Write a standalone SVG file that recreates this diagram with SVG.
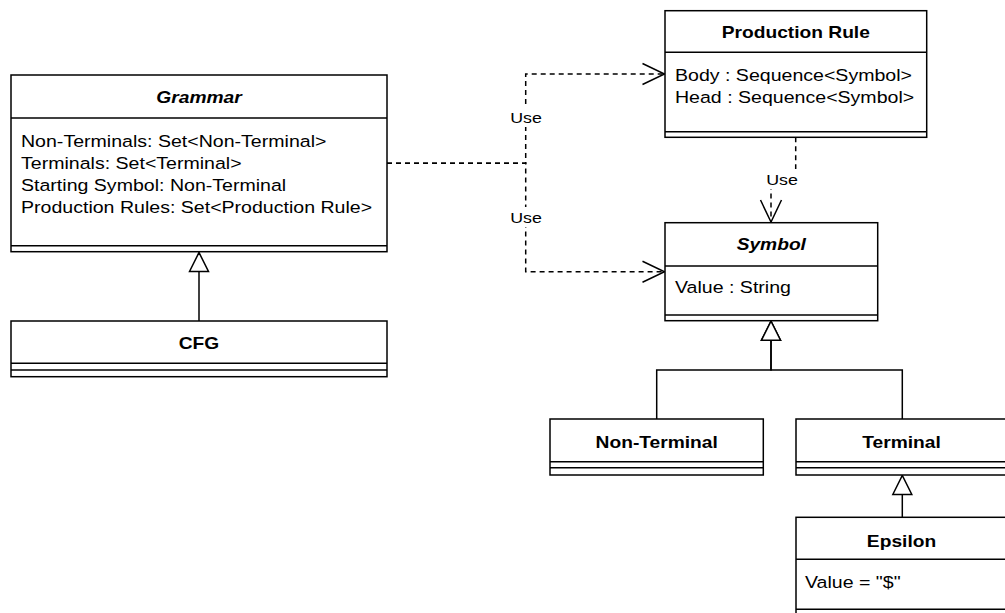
<svg xmlns="http://www.w3.org/2000/svg" width="1005" height="613" viewBox="0 0 1005 613">
  <style>
    .box { fill: #ffffff; stroke: #000000; stroke-width: 1.5; }
    .sep { stroke: #000000; stroke-width: 1.5; fill: none; }
    .title { font-family: "Liberation Sans", Arial, sans-serif; font-size: 16px; font-weight: bold; text-anchor: middle; fill: #000000; }
    .abstract { font-style: italic; }
    .attr { font-family: "Liberation Sans", Arial, sans-serif; font-size: 16.3px; fill: #000000; }
    .dep { fill: none; stroke: #000000; stroke-width: 1.5; stroke-dasharray: 5 4; }
    .gen { fill: none; stroke: #000000; stroke-width: 1.5; }
    .lbl { font-family: "Liberation Sans", Arial, sans-serif; font-size: 15.5px; text-anchor: middle; fill: #000000; }
    .lblbg { fill: #ffffff; stroke: none; }
  </style>
  <defs>
    <marker id="openArrow" markerUnits="userSpaceOnUse" markerWidth="26" markerHeight="24" refX="23" refY="12" orient="auto">
      <path d="M1,1.5 L23,12 L1,22.5" fill="none" stroke="#000000" stroke-width="1.5"/>
    </marker>
    <marker id="hollowTriangle" markerUnits="userSpaceOnUse" markerWidth="24" markerHeight="24" refX="21" refY="12" orient="auto">
      <path d="M2,2.5 L21,12 L2,21.5 Z" fill="#ffffff" stroke="#000000" stroke-width="1.5"/>
    </marker>
  </defs>

  <rect width="1005" height="613" fill="#ffffff"/>

  <!-- connectors -->
  <g id="connectors">
    <path class="dep" d="M387,163.3 H525.7 V74 H664.5" marker-end="url(#openArrow)"/>
    <path class="dep" d="M387,163.3 H525.7 V271.7 H664.5" marker-end="url(#openArrow)"/>
    <path class="dep" d="M795.7,137.3 V182 H771 V222" marker-end="url(#openArrow)"/>

    <path class="gen" d="M199,321 V252.5" marker-end="url(#hollowTriangle)"/>
    <path class="gen" d="M656.7,419 V370 H771 V321.2" marker-end="url(#hollowTriangle)"/>
    <path class="gen" d="M902.3,419 V370 H771 V321.2" marker-end="url(#hollowTriangle)"/>
    <path class="gen" d="M902.3,517.3 V475.5" marker-end="url(#hollowTriangle)"/>

    <rect class="lblbg" x="508" y="107" width="36" height="20"/>
    <text class="lbl" transform="translate(526,122.7) scale(1.15,1)">Use</text>
    <rect class="lblbg" x="508" y="207" width="36" height="20"/>
    <text class="lbl" transform="translate(526,222.7) scale(1.15,1)">Use</text>
    <rect class="lblbg" x="764" y="169" width="36" height="20"/>
    <text class="lbl" transform="translate(782,185) scale(1.15,1)">Use</text>
  </g>

  <!-- Grammar (abstract) -->
  <g id="grammar">
    <rect class="box" x="11" y="75" width="376" height="176.7"/>
    <line class="sep" x1="11" y1="118" x2="387" y2="118"/>
    <line class="sep" x1="11" y1="245.7" x2="387" y2="245.7"/>
    <text class="title abstract" transform="translate(199,103.3) scale(1.2,1)">Grammar</text>
    <text class="attr" transform="translate(21,146.7) scale(1.2,1)">Non-Terminals: Set&lt;Non-Terminal&gt;</text>
    <text class="attr" transform="translate(21,168.9) scale(1.2,1)">Terminals: Set&lt;Terminal&gt;</text>
    <text class="attr" transform="translate(21,191.1) scale(1.2,1)">Starting Symbol: Non-Terminal</text>
    <text class="attr" transform="translate(21,213.3) scale(1.2,1)">Production Rules: Set&lt;Production Rule&gt;</text>
  </g>

  <!-- CFG -->
  <g id="cfg">
    <rect class="box" x="11" y="321" width="376" height="55.7"/>
    <line class="sep" x1="11" y1="363.3" x2="387" y2="363.3"/>
    <line class="sep" x1="11" y1="370" x2="387" y2="370"/>
    <text class="title" transform="translate(199,349) scale(1.2,1)">CFG</text>
  </g>

  <!-- Production Rule -->
  <g id="production-rule">
    <rect class="box" x="665" y="10.7" width="261.7" height="126.6"/>
    <line class="sep" x1="665" y1="52.3" x2="926.7" y2="52.3"/>
    <line class="sep" x1="665" y1="131.7" x2="926.7" y2="131.7"/>
    <text class="title" transform="translate(795.8,38.3) scale(1.2,1)">Production Rule</text>
    <text class="attr" transform="translate(675,80.7) scale(1.2,1)">Body : Sequence&lt;Symbol&gt;</text>
    <text class="attr" transform="translate(675,102.7) scale(1.2,1)">Head : Sequence&lt;Symbol&gt;</text>
  </g>

  <!-- Symbol (abstract) -->
  <g id="symbol">
    <rect class="box" x="665" y="222.7" width="212.7" height="98"/>
    <line class="sep" x1="665" y1="266" x2="877.7" y2="266"/>
    <line class="sep" x1="665" y1="315" x2="877.7" y2="315"/>
    <text class="title abstract" transform="translate(771.3,250) scale(1.2,1)">Symbol</text>
    <text class="attr" transform="translate(675,293) scale(1.2,1)">Value : String</text>
  </g>

  <!-- Non-Terminal -->
  <g id="non-terminal">
    <rect class="box" x="550" y="419" width="213.3" height="56"/>
    <line class="sep" x1="550" y1="461.7" x2="763.3" y2="461.7"/>
    <line class="sep" x1="550" y1="467.7" x2="763.3" y2="467.7"/>
    <text class="title" transform="translate(656.7,447.7) scale(1.2,1)">Non-Terminal</text>
  </g>

  <!-- Terminal -->
  <g id="terminal">
    <rect class="box" x="796" y="419" width="213" height="56"/>
    <line class="sep" x1="796" y1="461.7" x2="1009" y2="461.7"/>
    <line class="sep" x1="796" y1="467.7" x2="1009" y2="467.7"/>
    <text class="title" transform="translate(901.5,447.7) scale(1.2,1)">Terminal</text>
  </g>

  <!-- Epsilon -->
  <g id="epsilon">
    <rect class="box" x="796" y="517.3" width="213" height="110"/>
    <line class="sep" x1="796" y1="559.3" x2="1009" y2="559.3"/>
    <line class="sep" x1="796" y1="609.3" x2="1009" y2="609.3"/>
    <text class="title" transform="translate(901.5,546.7) scale(1.2,1)">Epsilon</text>
    <text class="attr" transform="translate(805,588.3) scale(1.2,1)">Value = "$"</text>
  </g>
</svg>
